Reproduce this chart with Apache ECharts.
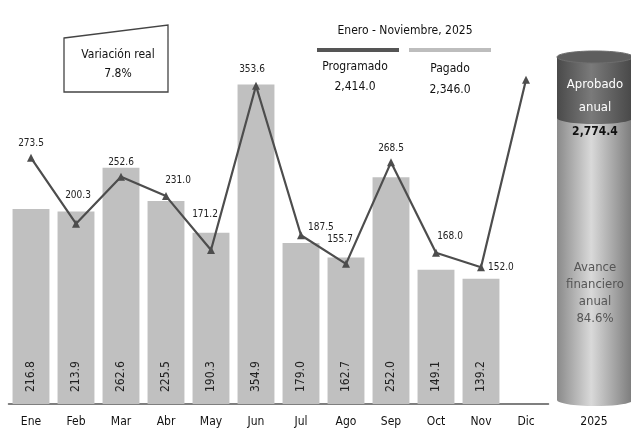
<!DOCTYPE html>
<html>
<head>
<meta charset="utf-8">
<script src="https://cdn.jsdelivr.net/npm/echarts@6/dist/echarts.min.js"></script>
<style>
html,body{margin:0;padding:0;background:#fff;}
#c{width:631px;height:434px;}
</style>
</head>
<body>
<div id="c"></div>
<script>
const months = ['Ene','Feb','Mar','Abr','May','Jun','Jul','Ago','Sep','Oct','Nov','Dic'];
const pagado = [216.8,213.9,262.6,225.5,190.3,354.9,179.0,162.7,252.0,149.1,139.2,null];
const programado = [273.5,200.3,252.6,231.0,171.2,353.6,187.5,155.7,268.5,168.0,152.0,360.4];
const showProgLabel = [true,true,true,true,true,true,true,true,true,true,true,false];
const totalProgramado = '2,414.0';
const totalPagado = '2,346.0';
const aprobadoAnual = '2,774.4';
const avanceAnual = '84.6%';
const variacionReal = '7.8%';
const periodo = 'Enero - Noviembre, 2025';
const anio = '2025';

const FONT = "'Liberation Sans Narrow','DejaVu Sans Condensed','Liberation Sans',sans-serif";
const labelPlace = [
  {position:'top',offset:[0,0]},
  {position:'top',offset:[2,-14]},
  {position:'top',offset:[0,0]},
  {position:'top',offset:[12,-2]},
  {position:'top',offset:[-6,-22]},
  {position:'top',offset:[-4,-2]},
  {position:'right',offset:[-2,-8]},
  {position:'top',offset:[-6,-10]},
  {position:'top',offset:[0,0]},
  {position:'top',offset:[14,-2]},
  {position:'right',offset:[-2,0]},
  {position:'top',offset:[0,0]}
];

const chart = echarts.init(document.getElementById('c'), null, {renderer:'canvas'});

const cylX = 557, cylW = 76, cylTop = 57, cylBot = 400, darkBot = 118, ry = 6;
const bodyGrad = new echarts.graphic.LinearGradient(0,0,1,0,[
  {offset:0,color:'#8a8a8a'},{offset:0.45,color:'#d9d9d9'},{offset:1,color:'#7a7a7a'}]);
const darkGrad = new echarts.graphic.LinearGradient(0,0,1,0,[
  {offset:0,color:'#4a4a4a'},{offset:0.45,color:'#7a7a7a'},{offset:1,color:'#474747'}]);

chart.setOption({
  animation:false,
  textStyle:{fontFamily:FONT},
  grid:{left:8.5,right:82.5,top:44,bottom:30},
  xAxis:{
    type:'category',data:months,
    axisLine:{lineStyle:{color:'#555',width:1.5}},
    axisTick:{show:false},
    axisLabel:{color:'#111',fontSize:12,margin:12,fontFamily:FONT}
  },
  yAxis:{type:'value',min:0,max:400,show:false,splitLine:{show:false}},
  series:[
    {
      type:'bar',data:pagado,barCategoryGap:'18%',
      itemStyle:{color:'#c0c0c0'},
      label:{show:true,position:'insideBottom',rotate:90,align:'left',verticalAlign:'middle',
        distance:12,color:'#222',fontSize:12,fontFamily:FONT,formatter:p=>p.value.toFixed(1)},
      z:1
    },
    {
      type:'line',
      data:programado.map((v,i)=>({value:v,label:Object.assign({show:showProgLabel[i]},labelPlace[i])})),
      symbol:'triangle',symbolSize:8,
      lineStyle:{color:'#4d4d4d',width:2.2},
      itemStyle:{color:'#4d4d4d'},
      label:{show:true,color:'#222',fontSize:10,fontFamily:FONT,formatter:p=>p.value.toFixed(1)},
      z:3
    }
  ],
  graphic:[
    {type:'polygon',shape:{points:[[64,38],[168,25],[168,92],[64,92]]},
      style:{fill:'#fff',stroke:'#444',lineWidth:1.3},z:10},
    {type:'text',x:118,y:55,style:{text:'Variación real',font:'12px '+FONT,fill:'#111',align:'center',verticalAlign:'middle'},z:11},
    {type:'text',x:118,y:74,style:{text:variacionReal,font:'12px '+FONT,fill:'#111',align:'center',verticalAlign:'middle'},z:11},

    {type:'text',x:405,y:31,style:{text:periodo,font:'12px '+FONT,fill:'#111',align:'center',verticalAlign:'middle'},z:11},
    {type:'rect',shape:{x:317,y:48,width:82,height:4},style:{fill:'#555'},z:11},
    {type:'rect',shape:{x:409,y:48,width:82,height:4},style:{fill:'#bdbdbd'},z:11},
    {type:'text',x:355,y:67,style:{text:'Programado',font:'12px '+FONT,fill:'#111',align:'center',verticalAlign:'middle'},z:11},
    {type:'text',x:355,y:87,style:{text:totalProgramado,font:'12px '+FONT,fill:'#111',align:'center',verticalAlign:'middle'},z:11},
    {type:'text',x:450,y:69,style:{text:'Pagado',font:'12px '+FONT,fill:'#111',align:'center',verticalAlign:'middle'},z:11},
    {type:'text',x:450,y:90,style:{text:totalPagado,font:'12px '+FONT,fill:'#111',align:'center',verticalAlign:'middle'},z:11},

    {type:'ellipse',shape:{cx:cylX+cylW/2,cy:cylBot,rx:cylW/2,ry:ry},style:{fill:bodyGrad},z:5},
    {type:'rect',shape:{x:cylX,y:cylTop,width:cylW,height:cylBot-cylTop},style:{fill:bodyGrad},z:5},
    {type:'ellipse',shape:{cx:cylX+cylW/2,cy:darkBot,rx:cylW/2,ry:ry},style:{fill:darkGrad},z:6},
    {type:'rect',shape:{x:cylX,y:cylTop,width:cylW,height:darkBot-cylTop},style:{fill:darkGrad},z:6},
    {type:'ellipse',shape:{cx:cylX+cylW/2,cy:cylTop,rx:cylW/2,ry:ry},style:{fill:'#5e5e5e',stroke:'#6e6e6e',lineWidth:1},z:7},
    {type:'text',x:cylX+cylW/2,y:85,style:{text:'Aprobado',font:'13px '+FONT,fill:'#fff',align:'center',verticalAlign:'middle'},z:8},
    {type:'text',x:cylX+cylW/2,y:108,style:{text:'anual',font:'13px '+FONT,fill:'#fff',align:'center',verticalAlign:'middle'},z:8},
    {type:'text',x:cylX+cylW/2,y:132,style:{text:aprobadoAnual,font:'bold 12px '+FONT,fill:'#111',align:'center',verticalAlign:'middle'},z:8},
    {type:'text',x:cylX+cylW/2,y:268,style:{text:'Avance',font:'13px '+FONT,fill:'#555',align:'center',verticalAlign:'middle'},z:8},
    {type:'text',x:cylX+cylW/2,y:285,style:{text:'financiero',font:'13px '+FONT,fill:'#555',align:'center',verticalAlign:'middle'},z:8},
    {type:'text',x:cylX+cylW/2,y:302,style:{text:'anual',font:'13px '+FONT,fill:'#555',align:'center',verticalAlign:'middle'},z:8},
    {type:'text',x:cylX+cylW/2,y:319,style:{text:avanceAnual,font:'13px '+FONT,fill:'#555',align:'center',verticalAlign:'middle'},z:8},
    {type:'text',x:594,y:422,style:{text:anio,font:'12px '+FONT,fill:'#111',align:'center',verticalAlign:'middle'},z:8}
  ]
});
</script>
</body>
</html>
